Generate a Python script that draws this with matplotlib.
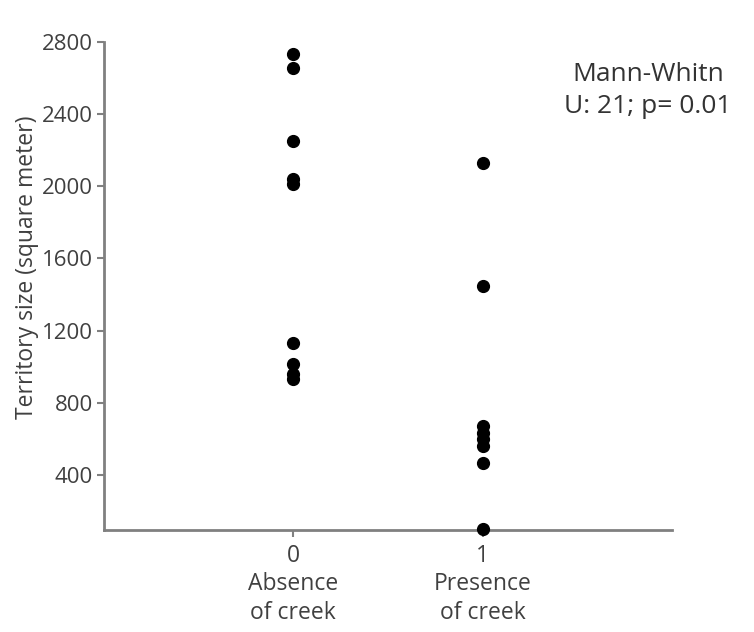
import matplotlib
matplotlib.use("Agg")
import matplotlib.pyplot as plt

categories = ["0\nAbsence\nof creek", "1\nPresence\nof creek"]
absence_values = [2730, 2655, 2250, 2040, 2010, 1130, 1015, 960, 930]
presence_values = [2130, 1445, 670, 635, 600, 560, 465, 100]
y_ticks = [400, 800, 1200, 1600, 2000, 2400, 2800]
annotation = "Mann-Whitn\nU: 21; p= 0.01"

plt.rcParams['font.family'] = ['Open Sans', 'DejaVu Sans']

fig = plt.figure(figsize=(7.54, 6.32), dpi=100)
ax = fig.add_axes([104/754, 1-530/632, (672-104)/754, (530-41.5)/632])

for i, vals in enumerate([absence_values, presence_values]):
    ax.scatter([i]*len(vals), vals, s=72, color='black', zorder=3, clip_on=False)

ax.set_xlim(-1, 2)
ax.set_ylim(97, 2800)
ax.set_xticks([0, 1])
ax.set_xticklabels(categories, fontsize=16.5, color='#404040', linespacing=1.25)
ax.set_yticks(y_ticks)
ax.set_yticklabels([str(v) for v in y_ticks], fontsize=16, color='#404040')
ax.set_ylabel("Territory size (square meter)", fontsize=16.5, color='#404040')
ax.yaxis.set_label_coords(-0.114, 0.538)

for s in ['top', 'right']:
    ax.spines[s].set_visible(False)
for s in ['left', 'bottom']:
    ax.spines[s].set_color('#808080')
    ax.spines[s].set_linewidth(2)
ax.tick_params(axis='both', colors='#808080', width=1.5, length=5, labelcolor='#404040')
ax.tick_params(axis='x', pad=5)
ax.tick_params(axis='y', pad=3)

ax.text(0.958, 0.899, annotation, transform=ax.transAxes, ha='center', va='center',
        fontsize=19, color='#333333', linespacing=1.38)

fig.savefig("out.png", dpi=100, facecolor='white')
